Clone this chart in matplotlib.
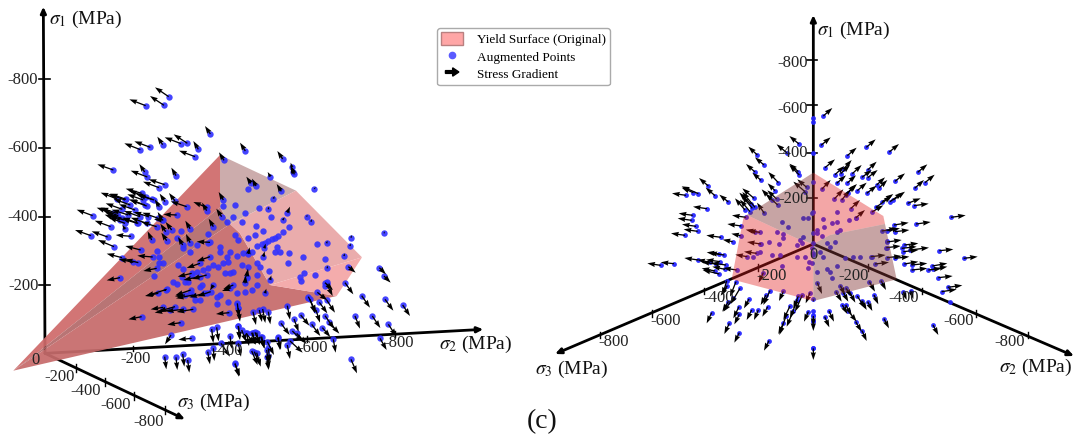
import matplotlib

matplotlib.use("Agg")
import matplotlib.pyplot as plt  # noqa: E402
from matplotlib.legend_handler import HandlerPatch  # noqa: E402
from matplotlib.lines import Line2D  # noqa: E402
from matplotlib.patches import FancyArrow, Patch, Polygon  # noqa: E402

plt.rcParams["font.family"] = ["Liberation Serif", "DejaVu Serif"]
plt.rcParams["mathtext.fontset"] = "stix"

# Both panels are projected 3D views, so values are read in picture units (3x px).
# --- left panel ---
# points going up-left
lu_x = [506, 492, 437, 631, 451, 421, 488, 543, 562, 595, 585, 672, 736, 848, 340, 434, 442, 528, 494, 477, 352, 375, 391, 425, 437, 462, 440, 495, 478, 525, 560, 620, 620, 670, 278, 332, 367, 385, 360, 372, 412, 445, 470, 530, 490, 375, 273, 323, 393, 342, 422, 366, 400, 415, 458, 355, 365, 378, 338, 350, 375, 415, 440, 475, 435, 455, 430, 405, 420]
lu_y = [290, 316, 317, 402, 442, 449, 434, 431, 430, 448, 470, 481, 453, 477, 510, 516, 531, 527, 554, 563, 597, 600, 615, 580, 590, 600, 618, 605, 620, 603, 620, 622, 632, 600, 647, 680, 628, 645, 660, 660, 670, 650, 680, 645, 660, 688, 707, 711, 709, 740, 750, 773, 787, 788, 771, 647, 655, 598, 640, 640, 670, 670, 670, 655, 615, 598, 600, 630, 650]
lu_u = [-41, -42, -49, -16, -48, -48, -16, -49, -41, -15, -48, -15, -16, -16, -48, -16, -50, -14, -48, -48, -50, -50, -50, -48, -50, -48, -50, -16, -14, -18, -48, -40, -14, -14, -48, -48, -50, -50, -46, -46, -46, -44, -46, -40, -28, -8, -48, -48, -46, -48, -46, -46, -44, -40, -46, -48, -48, -48, -48, -48, -48, -48, -48, -48, -48, -48, -48, -48, -48]
lu_v = [-28, -28, -19, -24, -18, -19, -24, -19, -27, -25, -18, -24, -25, -24, -17, -24, -19, -24, -16, -18, -19, -18, -18, -14, -18, -16, -18, -24, -22, -24, -16, -16, -24, -24, -18, -18, -18, -16, -16, -14, -14, -14, -14, -2, -2, -14, -17, -17, -4, -20, -12, -12, -10, -10, -4, -17, -17, -17, -17, -17, -17, -17, -17, -17, -17, -17, -17, -17, -17]
# steeper arrows over the surface
ls_x = [487, 497, 570, 665, 640, 455, 500, 515, 548, 570, 630, 876, 880, 883, 811, 768, 753, 844, 735, 740, 745, 793, 790, 810, 795]
ls_y = [660, 695, 686, 650, 680, 720, 722, 690, 735, 728, 727, 502, 517, 523, 530, 558, 550, 574, 850, 830, 762, 745, 770, 840, 880]
ls_u = [-14, -16, -14, -16, -14, -12, -16, -18, -14, -12, -40, -4, -8, -10, -8, -12, -14, -14, 2, 4, 4, 4, 4, 4, 4]
ls_v = [-24, -24, -24, -24, -24, -26, -24, -24, -24, -26, -2, -14, -20, -24, -14, -22, -20, -22, -24, -24, -20, -14, -16, -14, -14]
# short arrows, seen nearly end on
le_x = [943, 820, 982, 980, 1032, 1050, 1053, 1152, 920, 933, 862, 848, 805]
le_y = [567, 596, 805, 730, 768, 738, 713, 700, 650, 665, 638, 660, 628]
le_u = [4, 4, 0, 2, 2, 2, 2, 2, 2, 2, 8, 6, 2]
le_v = [-6, -8, -8, -8, -8, -8, -8, -6, -6, -8, -18, -8, -8]
# centre cluster going left
lc_x = [500, 475, 572, 630, 600, 575, 620, 600, 612, 632, 580, 555, 640, 700, 690, 360, 470, 498, 490, 525, 550, 580, 510, 425, 542, 688, 575, 513]
lc_y = [868, 880, 870, 770, 790, 820, 825, 830, 880, 875, 885, 885, 855, 855, 865, 833, 805, 870, 922, 920, 928, 928, 930, 950, 968, 938, 1015, 1005]
lc_u = [-62, -40, -46, -40, -40, -42, -44, -50, -44, -40, -52, -30, -10, -30, -24, -40, -40, -10, -38, -50, -52, -50, -46, -40, -40, -40, -40, -18]
lc_v = [20, 8, 16, 14, 14, 10, 12, 10, 12, 14, 10, 4, 16, 12, 8, 8, 8, 2, 6, 14, 6, 8, 8, 8, 6, 4, 4, 28]
# lower points going down-right
ld_x = [1035, 1085, 1155, 1208, 1138, 1152, 1065, 1117, 1165, 1140, 1053, 1000, 980, 958, 925, 930, 948, 975, 980, 952, 1045, 862, 902, 935, 967, 975, 988, 843, 882, 877, 890, 862, 870, 835, 805, 788, 778, 759, 715, 802, 782, 765, 755, 738, 725, 705, 755, 770, 800, 805, 712, 715]
ld_y = [848, 887, 898, 915, 803, 828, 948, 948, 973, 1015, 1078, 1018, 900, 907, 890, 898, 930, 848, 852, 877, 800, 917, 945, 973, 983, 947, 967, 970, 957, 993, 1000, 1035, 1023, 1012, 935, 927, 930, 935, 978, 1025, 1010, 997, 998, 1000, 990, 1090, 1053, 1058, 1070, 1045, 910, 925]
ld_u = [25, 25, 25, 22, 20, 20, 15, 24, 24, 20, 18, 7, 25, 24, 24, 15, 12, 24, 18, 30, 22, 8, 26, 26, 24, 28, 30, 26, 14, 32, 30, 8, 38, 5, 6, 8, 8, 9, 5, 20, 12, 15, 12, 27, 14, 12, 18, 12, 6, 5, 5, 5]
ld_v = [35, 36, 34, 33, 20, 20, 38, 36, 36, 35, 42, 40, 38, 33, 48, 42, 38, 22, 36, 24, 18, 42, 32, 35, 28, 40, 34, 35, 38, 32, 32, 42, 35, 38, 38, 42, 36, 40, 42, 40, 36, 38, 36, 32, 36, 40, 42, 42, 40, 42, 42, 40]
# under the horizontal axis on the left
lb_x = [494, 528, 548, 563, 635, 650, 715, 623, 640, 663, 705, 690, 715, 740, 758, 770, 785, 763, 800, 803, 833]
lb_y = [1070, 1072, 1062, 1080, 987, 982, 978, 1055, 1045, 1030, 1092, 1008, 1030, 1000, 998, 998, 1010, 1055, 1050, 1068, 1013]
lb_u = [5, 4, 5, 5, 5, 6, 4, 7, 3, 27, 15, 5, 8, 7, 8, 8, 8, 17, 6, 4, 10]
lb_v = [38, 38, 38, 38, 42, 42, 40, 38, 38, 40, 36, 38, 40, 38, 36, 36, 36, 40, 40, 38, 36]
# points without a visible arrow
lp_x = [705, 735, 778, 812, 725, 745, 772, 785, 795, 805, 815, 825, 835, 850, 868, 768, 788, 765, 705, 715, 700, 680, 625, 625, 660, 660, 590, 570, 548, 530, 542, 470, 478, 478, 490, 463, 535, 550, 545, 518, 532, 555, 565, 575, 590, 610, 625, 640, 655, 670, 685, 710, 690, 680, 730, 745, 755, 745, 725, 770, 780, 808, 770, 740, 700, 690, 675, 770, 755, 735, 710, 685, 650, 660, 600, 605, 620, 570, 585, 600, 650, 710, 715, 830, 825, 840, 868, 865, 910, 950, 975, 945, 912, 900, 902, 980, 975, 925, 670, 743]
lp_y = [615, 638, 623, 652, 665, 715, 738, 732, 728, 722, 718, 714, 708, 695, 680, 678, 692, 705, 705, 720, 650, 665, 702, 730, 742, 755, 735, 755, 745, 715, 692, 752, 770, 790, 790, 828, 795, 808, 830, 845, 852, 845, 845, 825, 815, 810, 805, 795, 800, 790, 785, 768, 755, 770, 760, 755, 755, 800, 795, 790, 800, 812, 825, 835, 815, 820, 818, 855, 870, 875, 880, 905, 890, 885, 860, 855, 880, 880, 900, 900, 912, 912, 925, 740, 755, 755, 758, 788, 772, 733, 778, 824, 818, 830, 842, 845, 858, 893, 618, 566]
# surface faces and their colours
lf_upper_x = [40, 660, 660, 110]
lf_upper_y = [1112, 465, 622, 1060]
lf_strip_x = [110, 660, 690, 40]
lf_strip_y = [1060, 622, 672, 1112]
lf_mid_x = [40, 690, 720, 810, 950, 1010]
lf_mid_y = [1112, 672, 700, 855, 878, 888]
lf_back_x = [660, 888, 690, 660]
lf_back_y = [465, 572, 672, 622]
lf_pink_x = [690, 888, 1086, 810, 720]
lf_pink_y = [672, 572, 772, 855, 700]
lf_rim_x = [810, 1086, 1055, 1010, 950]
lf_rim_y = [855, 772, 820, 888, 878]
# axes and tick labels
l_origin = (135, 1060)
l_s1_end = (130, 20)
l_s2_end = (1450, 988)
l_s3_end = (555, 1258)
l_s1_tick_y = [238, 445, 650, 855]
l_s2_tick_x = [400, 665, 920, 1185]
l_s2_tick_y = [1046, 1031, 1017, 1002]
l_s3_tick_x = [228, 315, 403, 495]
l_s3_tick_y = [1105, 1146, 1188, 1230]
l_s1_labels = ["-800", "-600", "-400", "-200"]
l_s1_label_y = [240, 445, 650, 858]
l_s2_labels = ["-200", "-400", "-600", "-800"]
l_s2_label_x = [408, 682, 938, 1195]
l_s2_label_y = [1078, 1052, 1045, 1030]
l_s3_labels = ["-200", "-400", "-600", "-800"]
l_s3_label_x = [178, 258, 347, 445]
l_s3_label_y = [1130, 1173, 1215, 1265]

# --- right panel ---
# upper-left arrows
ru_x = [597, 560, 472, 492, 465, 483, 595, 598, 620, 615, 535, 525, 325, 345, 385, 295, 280, 462, 435, 450, 457, 493, 515, 533, 530, 465, 452]
ru_y = [432, 458, 465, 495, 516, 541, 515, 525, 562, 575, 548, 572, 558, 587, 606, 581, 578, 595, 630, 635, 625, 640, 600, 615, 597, 622, 612]
ru_u = [-29, -30, -27, -27, -27, -26, -27, -30, -28, -35, -30, -22, -28, -28, -27, -50, -35, -35, -30, -30, -32, -22, -30, -36, -28, -38, -34]
ru_v = [-24, -25, -25, -23, -24, -23, -24, -30, -24, -30, -32, -22, -24, -24, -22, -22, -15, -30, -35, -36, -38, -32, -32, -34, -26, -46, -34]
# arrows going left
rl_x = [258, 321, 278, 275, 288, 293, 255, 438, 424, 363, 398, 422, 465, 480, 483, 470, 442, 373, 358, 360, 222, 182, 295, 330, 347, 378, 358, 345, 375, 410]
rl_y = [586, 626, 646, 661, 679, 694, 706, 652, 678, 712, 725, 707, 695, 697, 732, 760, 770, 765, 762, 785, 791, 796, 780, 787, 792, 795, 822, 813, 808, 810]
rl_u = [-42, -42, -42, -42, -42, -42, -42, -42, -42, -44, -30, -28, -28, -36, -42, -38, -36, -45, -38, -42, -40, -40, -42, -38, -42, -44, -50, -40, -38, -40]
rl_v = [-6, -6, -6, -6, -6, -6, -6, -6, -6, -6, -6, -6, -6, -5, -6, -5, -6, -6, -5, -6, -4, -6, -6, -8, -6, -6, -12, -8, -8, -6]
# upper-right arrows
rr_x = [670, 663, 742, 799, 868, 675, 730, 722, 705, 757, 803, 786, 803, 742, 710, 830, 838, 885, 953, 975, 944, 772, 800, 743, 737, 847, 870, 880, 828, 752, 816, 767, 703, 725, 665]
rr_y = [348, 436, 467, 442, 456, 503, 508, 521, 524, 521, 510, 532, 533, 549, 550, 555, 563, 544, 517, 548, 565, 572, 580, 578, 585, 605, 605, 600, 622, 626, 636, 654, 597, 600, 568]
rr_u = [27, 29, 28, 28, 29, 30, 25, 28, 28, 28, 27, 29, 30, 26, 28, 25, 24, 30, 29, 29, 28, 28, 30, 28, 30, 33, 38, 35, 47, 28, 34, 28, 27, 25, 27]
rr_v = [-24, -24, -24, -24, -24, -25, -28, -26, -26, -26, -25, -22, -23, -23, -24, -23, -23, -24, -24, -24, -25, -24, -23, -26, -30, -23, -27, -25, -34, -26, -20, -24, -29, -30, -28]
# arrows going right
rh_x = [923, 942, 1053, 882, 948, 845, 862, 885, 861, 859, 913, 905, 910, 930, 1018, 1091, 861, 885, 913, 935, 935, 985, 1000, 997, 1015, 1043, 1025, 825, 812]
rh_y = [610, 617, 652, 675, 672, 693, 692, 695, 726, 743, 735, 745, 755, 750, 752, 775, 773, 775, 792, 795, 810, 810, 808, 798, 833, 862, 875, 792, 770]
rh_u = [39, 44, 44, 44, 44, 45, 38, 43, 44, 43, 42, 45, 45, 57, 42, 42, 44, 43, 42, 47, 47, 40, 42, 45, 43, 44, 45, 42, 45]
rh_v = [-15, -6, -6, -7, -6, -8, -7, -5, -6, -5, -5, -5, -5, -7, -4, -5, -5, -5, -7, -5, -5, -5, -8, -8, -5, -6, -7, -5, -5]
# lower-right arrows
rd_x = [808, 843, 822, 852, 999, 803, 785, 772, 786, 767, 737, 745, 727, 708, 721, 730, 750, 738, 687, 674, 932, 910, 652]
rd_y = [845, 842, 885, 956, 975, 905, 902, 888, 992, 965, 915, 933, 915, 875, 857, 878, 878, 865, 933, 950, 872, 875, 848]
rd_u = [17, 15, 13, 15, 16, 14, 15, 23, 14, 18, 18, 25, 15, 17, 14, 15, 16, 17, 15, 14, 8, 10, 14]
rd_v = [30, 28, 28, 29, 30, 28, 28, 37, 31, 30, 30, 32, 27, 30, 28, 27, 30, 25, 32, 32, 25, 25, 34]
# lower-left arrows
rb_x = [550, 510, 498, 503, 475, 455, 447, 417, 418, 388, 418, 335, 507, 420, 400, 385, 380, 408, 382, 570, 580, 558, 550, 595, 607, 592, 630, 625, 490]
rb_y = [874, 872, 885, 920, 930, 930, 897, 920, 943, 970, 998, 938, 1022, 865, 895, 905, 842, 845, 857, 918, 932, 948, 970, 888, 885, 900, 878, 935, 818]
rb_u = [-13, -20, -16, -16, -13, -15, -15, -17, -15, -15, -15, -15, -15, -28, -30, -18, -12, -18, -20, -20, -20, -20, -15, -15, -22, -22, -13, -13, -14]
rb_v = [29, 43, 30, 30, 30, 30, 28, 35, 30, 32, 30, 32, 30, 47, 40, 30, 43, 45, 30, 42, 48, 57, 32, 37, 50, 55, 32, 30, 30]
# straight down, on the view axis
rv_x = [640, 640, 640, 640]
rv_y = [898, 948, 963, 1045]
rv_u = [0, 0, 0, 0]
rv_v = [8, 30, 30, 35]
# points without a visible arrow
rp_x = [640, 625, 610, 640, 635, 545, 563, 530, 550, 548, 508, 537, 480, 480, 460, 515, 540, 545, 590, 615, 628, 625, 635, 650, 680, 690, 695, 712, 735, 760, 780, 815, 860, 860, 650, 668, 672, 695, 710, 710, 720, 748, 768, 710, 705, 690, 680, 665, 650, 670, 660, 640, 635, 600, 610, 590, 605, 638, 640, 640, 640, 640, 640, 640, 640, 640, 1050, 640]
rp_y = [700, 655, 655, 635, 640, 665, 680, 695, 703, 715, 727, 733, 733, 755, 770, 765, 765, 798, 770, 770, 785, 805, 790, 815, 808, 815, 835, 797, 775, 770, 770, 770, 745, 722, 690, 658, 680, 670, 635, 665, 690, 660, 655, 695, 725, 740, 730, 708, 700, 770, 755, 760, 745, 720, 710, 735, 730, 765, 353, 365, 460, 545, 730, 932, 945, 962, 907, 1045]
# surface faces and their colours
rf_top_x = [640, 850, 855, 690, 640]
rf_top_y = [518, 648, 672, 705, 732]
rf_back_x = [640, 440, 590, 640]
rf_back_y = [518, 645, 715, 732]
rf_left_x = [440, 430, 395, 640, 590]
rf_left_y = [645, 655, 838, 732, 715]
rf_bottom_x = [395, 640, 640]
rf_bottom_y = [838, 903, 732]
rf_right_x = [640, 690, 855, 890, 640]
rf_right_y = [732, 705, 672, 838, 903]
# axes and tick labels
r_origin = (640, 732)
r_s1_end = (640, 45)
r_s2_end = (1422, 1068)
r_s3_end = (-135, 1062)
r_s1_tick_y = [180, 315, 460, 595]
r_s2_tick_x = [805, 967, 1127, 1283]
r_s2_tick_y = [803, 873, 940, 1005]
r_s3_tick_x = [475, 313, 155, 0]
r_s3_tick_y = [803, 873, 940, 1005]
r_s1_labels = ["-800", "-600", "-400", "-200"]
r_s1_label_y = [190, 326, 460, 597]
r_s2_labels = ["-200", "-400", "-600", "-800"]
r_s2_label_x = [760, 912, 1075, 1228]
r_s2_label_y = [828, 893, 963, 1027]
r_s3_labels = ["-200", "-400", "-600", "-800"]
r_s3_label_x = [515, 355, 197, 40]
r_s3_label_y = [828, 893, 963, 1027]

legend_labels = ["Yield Surface (Original)", "Augmented Points", "Stress Gradient"]


def _arrows(ax, x, y, u, v, z):
    ax.quiver(
        x, y, u, v, angles="xy", scale_units="xy", scale=1, units="dots",
        width=1.3, headwidth=4, headlength=6, headaxislength=5.5,
        color="black", zorder=z,
    )


def _axes_lines(ax, origin, ends, z):
    for end in ends:
        ax.annotate(
            "", xy=end, xytext=origin, zorder=z, annotation_clip=False,
            arrowprops=dict(arrowstyle="-|>,head_length=0.35,head_width=0.16",
                            lw=2.0, color="black", shrinkA=0, shrinkB=0),
        )


def _panel(left, width):
    ax = fig.add_axes([left / 1074, 0, width / 1074, 1])
    ax.set_xlim(0, width * 3)
    ax.set_ylim(1314, 0)
    ax.axis("off")
    ax.patch.set_alpha(0)
    return ax


def _arrow_handle(legend, orig_handle, xdescent, ydescent, width, height, fontsize):
    return FancyArrow(
        width * 0.2, height / 2, width * 0.6, 0, width=2.0, head_width=6,
        head_length=4.5, length_includes_head=True, color="black",
    )


fig = plt.figure(figsize=(10.74, 4.38), dpi=100)
ax_l = _panel(0, 500)
ax_r = _panel(600, 474)

# left panel: points sit on top of the surface
for xs, ys, col in [
    (lf_upper_x, lf_upper_y, "#cf6a6a"),
    (lf_strip_x, lf_strip_y, "#b36a6a"),
    (lf_mid_x, lf_mid_y, "#c66b6b"),
    (lf_back_x, lf_back_y, "#c8a6a6"),
    (lf_pink_x, lf_pink_y, "#e9a6a6"),
    (lf_rim_x, lf_rim_y, "#f4a6a6"),
]:
    ax_l.add_patch(Polygon(list(zip(xs, ys)), facecolor=col, edgecolor="none", alpha=0.93, zorder=3))
_axes_lines(ax_l, l_origin, [l_s1_end, l_s2_end, l_s3_end], 2)
for y in l_s1_tick_y:
    ax_l.plot([118, 150], [y, y], color="black", lw=1.2, zorder=2)
for x, y in zip(l_s2_tick_x, l_s2_tick_y):
    ax_l.plot([x, x], [y - 8, y + 8], color="black", lw=1.0, zorder=2)
for x, y in zip(l_s3_tick_x, l_s3_tick_y):
    ax_l.plot([x, x], [y - 12, y + 12], color="black", lw=1.0, zorder=2)
for xs, ys, us, vs in [
    (lu_x, lu_y, lu_u, lu_v),
    (ls_x, ls_y, ls_u, ls_v),
    (le_x, le_y, le_u, le_v),
    (lc_x, lc_y, lc_u, lc_v),
    (ld_x, ld_y, ld_u, ld_v),
    (lb_x, lb_y, lb_u, lb_v),
]:
    ax_l.scatter(xs, ys, s=21, color="#3030ff", alpha=0.9, linewidths=0, zorder=4)
    _arrows(ax_l, xs, ys, us, vs, 5)
ax_l.scatter(lp_x, lp_y, s=21, color="#3030ff", alpha=0.9, linewidths=0, zorder=4)

tick_kw = dict(fontsize=12, color="#222222", zorder=8, va="center")
for lab, y in zip(l_s1_labels, l_s1_label_y):
    ax_l.text(115, y, lab, ha="right", **tick_kw)
for lab, x, y in zip(l_s2_labels, l_s2_label_x, l_s2_label_y):
    ax_l.text(x, y, lab, ha="center", **tick_kw)
for lab, x, y in zip(l_s3_labels, l_s3_label_x, l_s3_label_y):
    ax_l.text(x, y, lab, ha="center", **tick_kw)
ax_l.text(106, 1080, "0", ha="center", **tick_kw)
name_kw = dict(fontsize=14, color="#111111", zorder=8, va="center", ha="left")
ax_l.text(147, 58, r"$\sigma_1$ (MPa)", **name_kw)
ax_l.text(1318, 1033, r"$\sigma_2$ (MPa)", clip_on=False, **name_kw)
ax_l.text(530, 1207, r"$\sigma_3$ (MPa)", **name_kw)

# right panel: the surface lies over the points and tints them
_axes_lines(ax_r, r_origin, [r_s1_end, r_s2_end, r_s3_end], 2)
for y in r_s1_tick_y:
    ax_r.plot([622, 652], [y, y], color="black", lw=1.2, zorder=2)
for x, y in zip(r_s2_tick_x + r_s3_tick_x, r_s2_tick_y + r_s3_tick_y):
    ax_r.plot([x, x], [y - 10, y + 10], color="black", lw=1.0, zorder=2, clip_on=False)
for xs, ys, us, vs in [
    (ru_x, ru_y, ru_u, ru_v),
    (rl_x, rl_y, rl_u, rl_v),
    (rr_x, rr_y, rr_u, rr_v),
    (rh_x, rh_y, rh_u, rh_v),
    (rd_x, rd_y, rd_u, rd_v),
    (rb_x, rb_y, rb_u, rb_v),
    (rv_x, rv_y, rv_u, rv_v),
]:
    ax_r.scatter(xs, ys, s=12, color="#2525ff", alpha=0.95, linewidths=0, zorder=4)
    _arrows(ax_r, xs, ys, us, vs, 5)
ax_r.scatter(rp_x, rp_y, s=12, color="#2525ff", alpha=0.95, linewidths=0, zorder=4)
for xs, ys, col, a in [
    (rf_top_x, rf_top_y, "#e32121", 0.4),
    (rf_back_x, rf_back_y, "#833737", 0.45),
    (rf_left_x, rf_left_y, "#e32121", 0.4),
    (rf_bottom_x, rf_bottom_y, "#e32121", 0.4),
    (rf_right_x, rf_right_y, "#833737", 0.45),
]:
    ax_r.add_patch(Polygon(list(zip(xs, ys)), facecolor=col, edgecolor="none", alpha=a, zorder=6))
for lab, y in zip(r_s1_labels, r_s1_label_y):
    ax_r.text(625, y, lab, ha="right", **tick_kw)
for lab, x, y in zip(r_s2_labels, r_s2_label_x, r_s2_label_y):
    ax_r.text(x, y, lab, ha="center", **tick_kw)
for lab, x, y in zip(r_s3_labels, r_s3_label_x, r_s3_label_y):
    ax_r.text(x, y, lab, ha="center", clip_on=False, **tick_kw)
ax_r.text(640, 765, "0", ha="center", **tick_kw)
ax_r.text(652, 92, r"$\sigma_1$ (MPa)", **name_kw)
ax_r.text(1197, 1103, r"$\sigma_2$ (MPa)", **name_kw)
ax_r.text(-195, 1108, r"$\sigma_3$ (MPa)", clip_on=False, **name_kw)

handles = [
    Patch(facecolor="#ffa6a6", edgecolor="#b98080", linewidth=1.0),
    Line2D([], [], linestyle="none", marker="o", markersize=4.5, color="#5a5aff"),
    Patch(color="black"),
]
fig.legend(
    handles, legend_labels, loc="upper left", bbox_to_anchor=(437 / 1074, 1 - 28 / 438),
    borderaxespad=0, fontsize=9.5, edgecolor="#aaaaaa", framealpha=1, fancybox=True,
    labelspacing=0.3, handlelength=1.7, handleheight=1.1, handletextpad=1.0,
    borderpad=0.3,
    handler_map={handles[2]: HandlerPatch(patch_func=_arrow_handle)},
)
fig.text(542 / 1074, 1 - 422 / 438, "(c)", fontsize=20, ha="center", va="center", color="#111111")

fig.savefig("out.png", dpi=100)
plt.close(fig)
